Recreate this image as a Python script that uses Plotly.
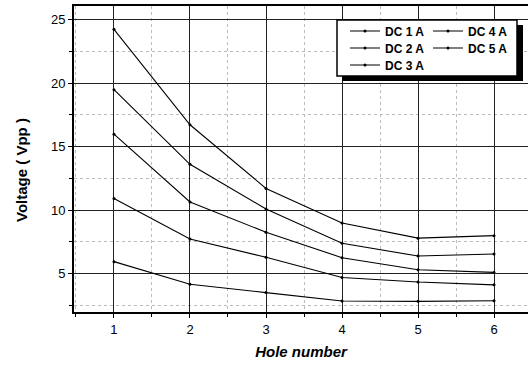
import plotly.graph_objects as go

holes = [1, 2, 3, 4, 5, 6]
dc1a = [5.93, 4.15, 3.49, 2.83, 2.80, 2.85]
dc2a = [10.9, 7.72, 6.27, 4.68, 4.32, 4.10]
dc3a = [15.98, 10.63, 8.25, 6.24, 5.29, 5.08]
dc4a = [19.48, 13.6, 10.08, 7.38, 6.37, 6.53]
dc5a = [24.24, 16.72, 11.7, 8.97, 7.78, 7.98]
names = ["DC 1 A", "DC 2 A", "DC 3 A", "DC 4 A", "DC 5 A"]
series = [dc1a, dc2a, dc3a, dc4a, dc5a]
y_ticks = [5, 10, 15, 20, 25]
x_ticks = [1, 2, 3, 4, 5, 6]

W, H = 528, 369
ml, mr, mt, mb = 74, 0, 6, 57
pw, ph = W - ml - mr, H - mt - mb

def px2x(px):
    return (px - ml) / pw

def px2y(py):
    return (H - mb - py) / ph

FONT = "Liberation Sans, Arial, sans-serif"

fig = go.Figure()
legend_pos = [(345, 31), (345, 48), (345, 65), (428, 31), (428, 48)]
legend_keys = ["legend", "legend2", "legend3", "legend4", "legend5"]
for name, ys, lk in zip(names, series, legend_keys):
    fig.add_trace(go.Scatter(
        x=holes, y=ys, name=name, mode="lines+markers",
        line=dict(color="black", width=1.1),
        marker=dict(color="black", size=3),
        legend=lk, showlegend=True,
    ))

layout_legends = {}
for lk, (lx, ly) in zip(legend_keys, legend_pos):
    layout_legends[lk] = dict(
        x=px2x(lx), y=px2y(ly), xanchor="left", yanchor="middle",
        bgcolor="rgba(0,0,0,0)", borderwidth=0,
        font=dict(family=FONT, size=12, color="black", weight="bold"),
        itemwidth=30,
    )

# legend frame with drop shadow
shapes = [
    dict(type="rect", xref="paper", yref="paper", layer="above",
         x0=px2x(342), x1=px2x(523), y0=px2y(81), y1=px2y(25),
         fillcolor="black", line=dict(width=0)),
    dict(type="rect", xref="paper", yref="paper", layer="above",
         x0=px2x(337), x1=px2x(517), y0=px2y(76), y1=px2y(20),
         fillcolor="white", line=dict(color="black", width=1.5)),
]

annotations = [
    dict(text="Voltage ( Vpp )", xref="paper", yref="paper",
         x=px2x(21), y=px2y(170), textangle=-90, showarrow=False,
         xanchor="center", yanchor="middle",
         font=dict(family=FONT, size=15, color="black", weight="bold")),
]

fig.update_layout(
    width=W, height=H,
    margin=dict(l=ml, r=mr, t=mt, b=mb),
    paper_bgcolor="white", plot_bgcolor="white",
    font=dict(family=FONT, size=13, color="black"),
    shapes=shapes, annotations=annotations,
    showlegend=True,
    **layout_legends,
)

fig.update_xaxes(
    range=[0.474, 6.447], tickvals=x_ticks,
    ticks="outside", ticklen=4, tickwidth=1.2, tickcolor="black",
    showline=True, linecolor="black", linewidth=2, mirror=True,
    showgrid=True, gridcolor="#222", gridwidth=1.2,
    minor=dict(dtick=0.5, tick0=0, ticks="outside", ticklen=3, tickcolor="black",
               showgrid=True, gridcolor="#bbb", griddash="dot", gridwidth=1),
    zeroline=False,
    tickfont=dict(family=FONT, size=13, color="black"),
    title=dict(text="Hole number", standoff=11,
               font=dict(family=FONT, size=15, color="black", weight="bold", style="italic")),
)
fig.update_yaxes(
    range=[1.96, 26.08], tickvals=y_ticks,
    ticks="outside", ticklen=4, tickwidth=1.2, tickcolor="black",
    showline=True, linecolor="black", linewidth=2,
    showgrid=True, gridcolor="#222", gridwidth=1.2,
    minor=dict(dtick=2.5, tick0=0, ticks="outside", ticklen=3, tickcolor="black",
               showgrid=True, gridcolor="#bbb", griddash="dot", gridwidth=1),
    zeroline=False,
    tickfont=dict(family=FONT, size=13, color="black"),
)

fig.write_html("out.html")
